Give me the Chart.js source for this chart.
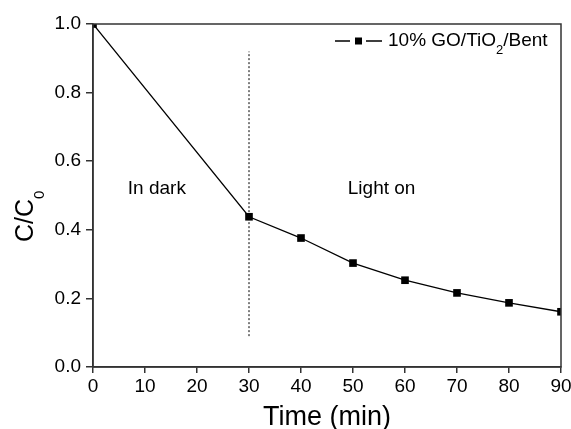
<!DOCTYPE html>
<html>
<head>
<meta charset="utf-8">
<script src="https://cdn.jsdelivr.net/npm/chart.js@4"></script>
<style>
  html, body { margin: 0; padding: 0; background: #fff; }
  #wrap { width: 571px; height: 429px; }
</style>
</head>
<body>
<div id="wrap"><canvas id="chart" width="571" height="429"></canvas></div>
<script>
const times = [0, 30, 40, 50, 60, 70, 80, 90];
const ratio = [1.0, 0.438, 0.376, 0.303, 0.253, 0.216, 0.187, 0.161];
const darkLimitX = [30, 30];
const darkLimitY = [0.09, 0.92];
const xTicks = [0, 10, 20, 30, 40, 50, 60, 70, 80, 90];
const yTicks = [0.0, 0.2, 0.4, 0.6, 0.8, 1.0];

const font = 'Liberation Sans, Arial, sans-serif';
const axisColor = '#333';

// draws frame, legend, region labels and the y title with subscript
const extras = {
    id: 'extras',
    afterDraw(chart) {
        const ctx = chart.ctx;
        const a = chart.chartArea;
        const xs = chart.scales.x, ys = chart.scales.y;
        ctx.save();

        ctx.strokeStyle = axisColor;
        ctx.lineWidth = 1.5;
        ctx.strokeRect(a.left, a.top, a.right - a.left, a.bottom - a.top);

        ctx.fillStyle = '#000';
        ctx.font = '19px ' + font;
        ctx.textBaseline = 'middle';
        ctx.textAlign = 'left';
        const labelY = ys.getPixelForValue(0.52);
        ctx.fillText('In dark', xs.getPixelForValue(6.7), labelY);
        ctx.fillText('Light on', xs.getPixelForValue(49.0), labelY);

        // legend
        const ly = 41;
        ctx.strokeStyle = '#000';
        ctx.lineWidth = 1.3;
        ctx.beginPath();
        ctx.moveTo(335, ly); ctx.lineTo(350, ly);
        ctx.moveTo(366, ly); ctx.lineTo(382, ly);
        ctx.stroke();
        ctx.fillRect(355, ly - 3.5, 7, 7);
        let tx = 388;
        ctx.fillText('10% GO/TiO', tx, ly);
        tx += ctx.measureText('10% GO/TiO').width;
        ctx.font = '13px ' + font;
        ctx.fillText('2', tx, ly + 9);
        tx += ctx.measureText('2').width;
        ctx.font = '19px ' + font;
        ctx.fillText('/Bent', tx, ly);

        // y title
        ctx.translate(33, 242);
        ctx.rotate(-Math.PI / 2);
        ctx.textBaseline = 'alphabetic';
        ctx.font = '25px ' + font;
        ctx.fillText('C/C', 0, 0);
        const w1 = ctx.measureText('C/C').width;
        ctx.font = '15px ' + font;
        ctx.fillText('0', w1, 11);
        ctx.restore();
    }
};

const ctx = document.getElementById('chart').getContext('2d');
const chart = new Chart(ctx, {
    type: 'line',
    data: {
        datasets: [{
            label: '10% GO/TiO2/Bent',
            data: times.map((t, i) => ({ x: t, y: ratio[i] })),
            borderColor: '#000',
            backgroundColor: '#000',
            borderWidth: 1.3,
            pointStyle: 'rect',
            pointRadius: 5.4,
            pointBorderWidth: 0,
            tension: 0,
            clip: 0
        }, {
            label: 'limit',
            data: darkLimitX.map((t, i) => ({ x: t, y: darkLimitY[i] })),
            borderColor: '#000',
            borderWidth: 1,
            borderDash: [2, 2],
            pointRadius: 0
        }]
    },
    options: {
        responsive: false,
        animation: false,
        layout: { padding: { top: 24, right: 0, left: 0, bottom: 0 } },
        plugins: { legend: { display: false }, tooltip: { enabled: false } },
        scales: {
            x: {
                type: 'linear',
                min: 0, max: 90,
                afterBuildTicks: s => { s.ticks = xTicks.map(v => ({ value: v })); },
                afterFit: s => { s.height = 62; s.paddingRight = 10; s.paddingLeft = 0; },
                grid: { drawOnChartArea: false, tickLength: 6, color: axisColor, lineWidth: 1.5 },
                border: { color: axisColor, width: 1.5 },
                ticks: { color: '#000', font: { family: font, size: 19 }, padding: 2, maxRotation: 0 },
                title: { display: true, text: 'Time (min)', color: '#000', font: { family: font, size: 27, lineHeight: 1 }, padding: { top: 0, bottom: -2 } }
            },
            y: {
                min: 0, max: 1,
                afterBuildTicks: s => { s.ticks = yTicks.map(v => ({ value: v })); },
                afterFit: s => { s.width = 93; },
                grid: { drawOnChartArea: false, tickLength: 7, color: axisColor, lineWidth: 1.5 },
                border: { color: axisColor, width: 1.5 },
                ticks: { color: '#000', font: { family: font, size: 19 }, padding: 5, callback: v => v.toFixed(1) }
            }
        }
    },
    plugins: [extras]
});
</script>
</body>
</html>
